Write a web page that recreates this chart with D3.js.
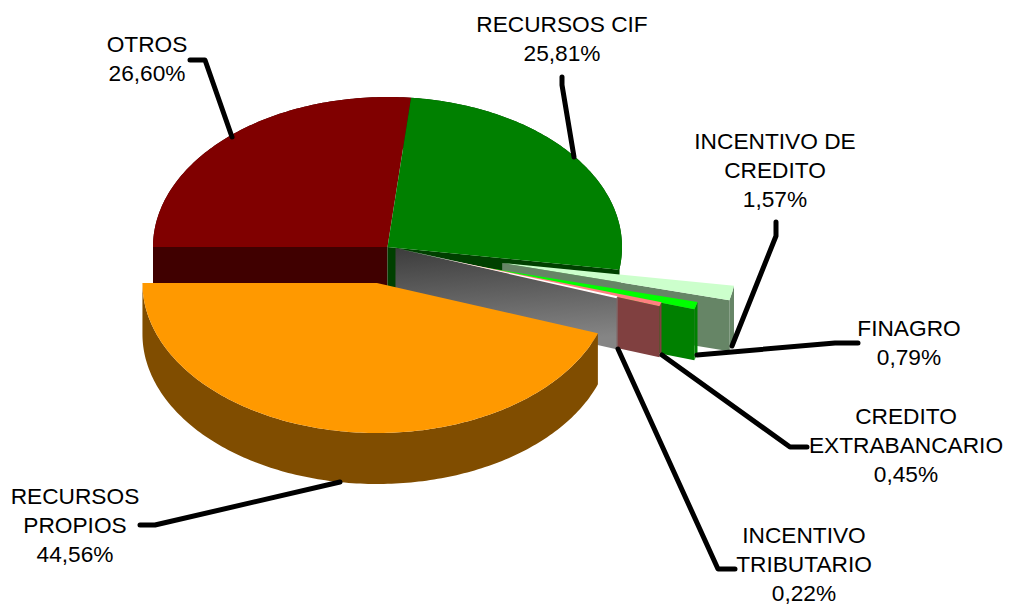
<!DOCTYPE html>
<html><head><meta charset="utf-8">
<script src="https://cdn.jsdelivr.net/npm/d3@7"></script>
<style>html,body{margin:0;padding:0;background:#fff;overflow:hidden}text{font-family:"Liberation Sans",Arial,sans-serif;font-size:22.7px;fill:#000;text-anchor:middle}</style>
</head><body><svg id="c" width="1010" height="606"></svg>
<script>
const categories = ["OTROS","RECURSOS CIF","INCENTIVO DE CREDITO","FINAGRO","CREDITO EXTRABANCARIO","INCENTIVO TRIBUTARIO","RECURSOS PROPIOS"];
const shares = [26.60,25.81,1.57,0.79,0.45,0.22,44.56];
const percentLabels = ["26,60%","25,81%","1,57%","0,79%","0,45%","0,22%","44,56%"];
const explodeX = [0,0,0.489,0.353,0.213,0.034,-0.045];
const explodeY = [0,0,0.107,0.12,0.073,0.007,0.24];
const topColors = ["#800000","#008000","#ccffcc","#00ff00","#ff8080","#ffffff","#ff9900"];
const sideColors = ["#400000","#004000","#668566","#008000","#804040","url(#grey)","#804d00"];
const labelLines = [["OTROS"],["RECURSOS CIF"],["INCENTIVO DE","CREDITO"],["FINAGRO"],["CREDITO","EXTRABANCARIO"],["INCENTIVO","TRIBUTARIO"],["RECURSOS","PROPIOS"]];
const labelAnchors = [[147,45],[562,25],[775,142],[909,329],[906,417],[804,536],[75,497]];
const leaders = [
 [[190,60],[205,60],[232,137]],
 [[562,77],[562,85],[574,157]],
 [[776,222],[776,236],[732,346]],
 [[858,343],[835,343],[697,355]],
 [[662,355],[790,447],[807,447]],
 [[618,349],[718,569],[735,569]],
 [[140,525],[155,525],[340,482]]
];
const depth = 51;
const x = d3.scaleLinear().domain([-1,1]).range([153,622]);
const y = d3.scaleLinear().domain([-1,1]).range([97,397]);
const svg = d3.select("#c");
const defs = svg.append("defs");
const g = defs.append("linearGradient").attr("id","grey").attr("x1",0).attr("y1",0).attr("x2",0.15).attr("y2",1);
g.append("stop").attr("offset",0).attr("stop-color","#3c3c3c");
g.append("stop").attr("offset",1).attr("stop-color","#858585");
const arcs = d3.pie().sort(null).value(d=>d).startAngle(-Math.PI/2).endAngle(1.5*Math.PI)(shares);
const line = d3.line();
const pt = (a,r,o) => [x(o[0]+r*Math.sin(a)), y(o[1]-r*Math.cos(a))];
const arcPts = (a0,a1,o) => { const n=Math.max(2,Math.ceil((a1-a0)*60)); return d3.range(n+1).map(i=>pt(a0+(a1-a0)*i/n,1,o)); };
arcs.forEach((d,i)=>{
  const o=[explodeX[i],explodeY[i]];
  const apex=pt(0,0,o);
  const rim=arcPts(d.startAngle,d.endAngle,o);
  const down=p=>[p[0],p[1]+depth];
  const end=rim[rim.length-1];
  svg.append("path").attr("d",line(rim.concat(rim.slice().reverse().map(down)))+"Z").attr("fill",i===5?"#808080":sideColors[i]);
  // visible cut face: the western radius for the first slice, the trailing radius for the others
  const edge = i===0 ? rim[0] : end;
  if(i<6) svg.append("path").attr("d",line([apex,edge,down(edge),down(apex)])+"Z").attr("fill",sideColors[i]);
  svg.append("path").attr("d",line([apex].concat(rim))+"Z").attr("fill",topColors[i]);
});
leaders.forEach(l=>svg.append("path").attr("d",line(l)).attr("fill","none").attr("stroke","#000").attr("stroke-width",5).attr("stroke-linejoin","round").attr("stroke-linecap","round"));
categories.forEach((c,i)=>{
  const t=svg.append("text").attr("aria-label",c);
  labelLines[i].concat([percentLabels[i]]).forEach((s,j)=>t.append("tspan").attr("x",labelAnchors[i][0]).attr("y",labelAnchors[i][1]+j*29+7).text(s));
});
</script></body></html>
